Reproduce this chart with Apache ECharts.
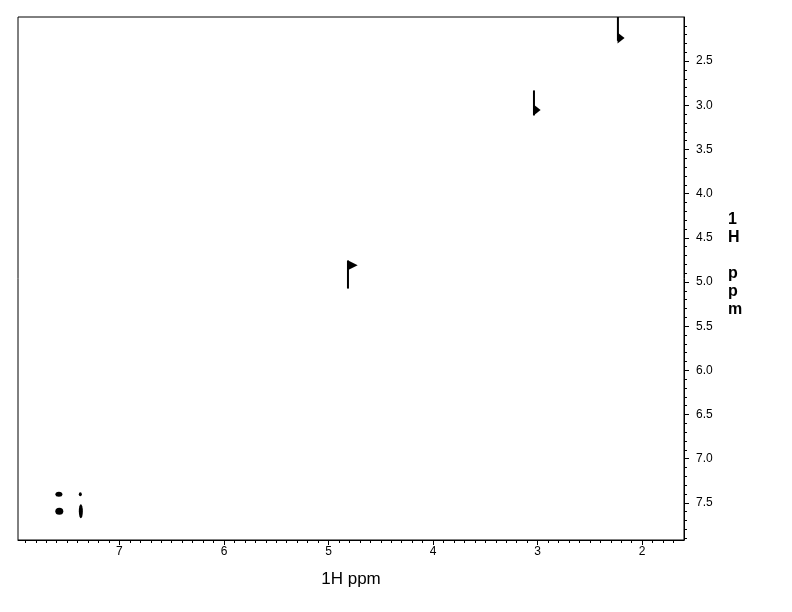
<!DOCTYPE html>
<html>
<head>
<meta charset="utf-8">
<script src="https://cdn.jsdelivr.net/npm/echarts@6/dist/echarts.min.js"></script>
<style>
html,body{margin:0;padding:0;background:#fff;}
#chart{width:792px;height:612px;}
</style>
</head>
<body>
<div id="chart"></div>
<script>
// ---- data (ppm) ----
const xMajorTicks = [7, 6, 5, 4, 3, 2];
const yMajorTicks = [2.5, 3.0, 3.5, 4.0, 4.5, 5.0, 5.5, 6.0, 6.5, 7.0, 7.5];
const xAxisTitle = '1H ppm';
const yAxisTitle = '1\nH\n\np\np\nm';

// diagonal peaks: vertical streak (x, from y, to y) and the right-pointing lobe
const streakX      = [2.232, 3.035, 4.814];
const streakTop    = [2.000, 2.831, 4.757];
const streakBottom = [2.270, 3.114, 5.074];
const lobeX        = [2.202, 3.005, 4.769];
const lobeY        = [2.238, 3.052, 4.811];

// aromatic cross / diagonal peaks
const blobX = [7.579, 7.374, 7.575, 7.369];
const blobY = [7.402, 7.402, 7.594, 7.594];

// ---- layout / style ----
const X_MIN = 1.6, X_MAX = 7.97;
const Y_MIN = 2.0, Y_MAX = 7.92;
const lobeSizes = [[11, 7], [11, 7], [10, 10]];
const blobSizes = [[7, 5], [3, 4], [8, 7], [4, 14]];

function range(a, b, step) {
  const out = [];
  for (let v = a; v <= b + 1e-9; v += step) out.push(Math.round(v * 10) / 10);
  return out;
}
const xMinorTicks = range(1.7, 7.9, 0.1);
const yMinorTicks = range(2.1, 7.9, 0.1);

const FONT = '"Liberation Sans", Arial, sans-serif';
const chart = echarts.init(document.getElementById('chart'), null, {renderer: 'canvas'});

const commonX = {
  type: 'value', inverse: true, min: X_MIN, max: X_MAX, position: 'bottom',
  splitLine: {show: false}
};
const commonY = {
  type: 'value', inverse: true, min: Y_MIN, max: Y_MAX, position: 'right',
  splitLine: {show: false}
};

const series = [];
streakX.forEach((x, i) => {
  series.push({
    type: 'line', xAxisIndex: 0, yAxisIndex: 0, silent: true,
    symbol: 'none',
    lineStyle: {color: '#000', width: 2},
    data: [[x, streakTop[i]], [x, streakBottom[i]]]
  });
});
series.push({
  type: 'scatter', xAxisIndex: 0, yAxisIndex: 0, silent: true,
  symbol: 'triangle', symbolRotate: -90,
  symbolSize: (v, p) => lobeSizes[p.dataIndex],
  itemStyle: {color: '#000', opacity: 1},
  data: lobeX.map((x, i) => [x, lobeY[i]])
});
series.push({
  type: 'scatter', xAxisIndex: 0, yAxisIndex: 0, silent: true,
  symbol: 'circle',
  symbolSize: (v, p) => blobSizes[p.dataIndex],
  itemStyle: {color: '#000', opacity: 1},
  data: blobX.map((x, i) => [x, blobY[i]])
});

chart.setOption({
  animation: false,
  backgroundColor: '#fff',
  grid: {left: 18, right: 108, top: 17, bottom: 72, show: true,
         borderColor: '#000', borderWidth: 1, containLabel: false},
  graphic: [{
    type: 'text', left: 728, top: 211, silent: true,
    style: {text: yAxisTitle, fontFamily: FONT, fontSize: 16, fontWeight: 'bold',
            fill: '#000', lineHeight: 18, align: 'left'}
  }],
  xAxis: [
    Object.assign({}, commonX, {
      name: xAxisTitle, nameLocation: 'middle', nameGap: 31,
      nameTextStyle: {fontFamily: FONT, fontSize: 17, color: '#000'},
      axisLine: {show: true, lineStyle: {color: '#000', width: 1}},
      axisTick: {show: true, length: 5, inside: false, customValues: xMajorTicks,
                 lineStyle: {color: '#000'}},
      axisLabel: {show: true, customValues: xMajorTicks, margin: 6,
                  fontFamily: FONT, fontSize: 12, color: '#000',
                  formatter: v => String(v)}
    }),
    Object.assign({}, commonX, {
      axisLine: {show: false},
      axisTick: {show: true, length: 3, customValues: xMinorTicks,
                 lineStyle: {color: '#000'}},
      axisLabel: {show: false}
    })
  ],
  yAxis: [
    Object.assign({}, commonY, {
      axisLine: {show: true, lineStyle: {color: '#000', width: 1}},
      axisTick: {show: true, length: 5, customValues: yMajorTicks,
                 lineStyle: {color: '#000'}},
      axisLabel: {show: true, customValues: yMajorTicks, margin: 12,
                  fontFamily: FONT, fontSize: 12, color: '#000',
                  formatter: v => v.toFixed(1)}
    }),
    Object.assign({}, commonY, {
      axisLine: {show: false},
      axisTick: {show: true, length: 3, customValues: yMinorTicks,
                 lineStyle: {color: '#000'}},
      axisLabel: {show: false}
    })
  ],
  series: series
});
</script>
</body>
</html>
